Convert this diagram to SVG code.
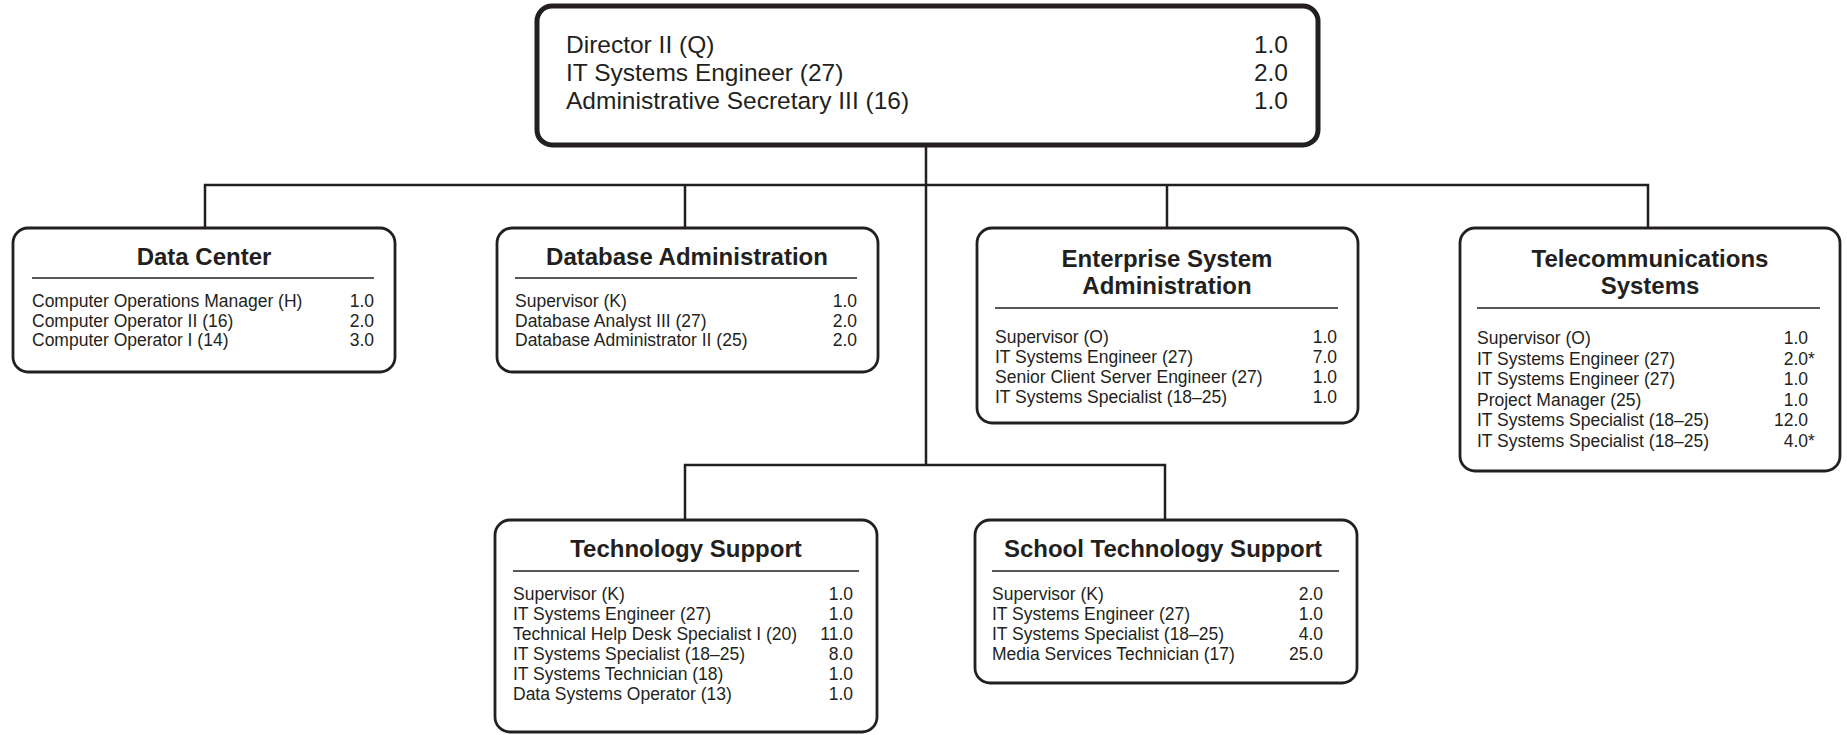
<svg xmlns="http://www.w3.org/2000/svg" width="1847" height="735" viewBox="0 0 1847 735">
<style>
  .top { fill: #fff; stroke: #231f20; stroke-width: 5; }
  .box { fill: #fff; stroke: #231f20; stroke-width: 2.8; }
  .div { stroke: #231f20; stroke-width: 1.5; }
  .conn { fill: none; stroke: #231f20; stroke-width: 2.5; }
  text { font-family: "Liberation Sans", Arial, sans-serif; fill: #231f20; }
  .tt { font-size: 24.5px; }
  .ttl { font-size: 24px; font-weight: bold; text-anchor: middle; }
  .r { font-size: 17.5px; }
  .v { font-size: 17.5px; text-anchor: end; }
  .vt { font-size: 24.5px; text-anchor: end; }
</style>
<rect width="1847" height="735" fill="#fff"/>
<g id="connectors">
  <path class="conn" d="M926 145 V465"/>
  <path class="conn" d="M205 227 V185 H1648 V227"/>
  <path class="conn" d="M685 185 V227"/>
  <path class="conn" d="M1167 185 V227"/>
  <path class="conn" d="M685 519 V465 H1165 V519"/>
</g>
<g id="director">
  <rect class="top" x="537" y="6" width="781" height="139" rx="15"/>
  <text class="tt" x="566" y="53">Director II (Q)</text>
  <text class="tt" x="566" y="81">IT Systems Engineer (27)</text>
  <text class="tt" x="566" y="109">Administrative Secretary III (16)</text>
  <text class="vt" x="1288" y="53">1.0</text>
  <text class="vt" x="1288" y="81">2.0</text>
  <text class="vt" x="1288" y="109">1.0</text>
</g>
<g id="data-center">
  <rect class="box" x="13" y="228" width="382" height="144" rx="15"/>
  <text class="ttl" x="204" y="265">Data Center</text>
  <line class="div" x1="32" y1="278" x2="374" y2="278"/>
  <text class="r" x="32" y="307">Computer Operations Manager (H)</text>
  <text class="r" x="32" y="326.5">Computer Operator II (16)</text>
  <text class="r" x="32" y="346">Computer Operator I (14)</text>
  <text class="v" x="374" y="307">1.0</text>
  <text class="v" x="374" y="326.5">2.0</text>
  <text class="v" x="374" y="346">3.0</text>
</g>
<g id="database-administration">
  <rect class="box" x="497" y="228" width="381" height="144" rx="15"/>
  <text class="ttl" x="687" y="265">Database Administration</text>
  <line class="div" x1="515" y1="278" x2="857" y2="278"/>
  <text class="r" x="515" y="307">Supervisor (K)</text>
  <text class="r" x="515" y="326.5">Database Analyst III (27)</text>
  <text class="r" x="515" y="346">Database Administrator II (25)</text>
  <text class="v" x="857" y="307">1.0</text>
  <text class="v" x="857" y="326.5">2.0</text>
  <text class="v" x="857" y="346">2.0</text>
</g>
<g id="enterprise-system-administration">
  <rect class="box" x="977" y="228" width="381" height="195" rx="15"/>
  <text class="ttl" x="1167" y="267">Enterprise System</text>
  <text class="ttl" x="1167" y="294">Administration</text>
  <line class="div" x1="995" y1="308" x2="1338" y2="308"/>
  <text class="r" x="995" y="343">Supervisor (O)</text>
  <text class="r" x="995" y="363">IT Systems Engineer (27)</text>
  <text class="r" x="995" y="383">Senior Client Server Engineer (27)</text>
  <text class="r" x="995" y="403">IT Systems Specialist (18–25)</text>
  <text class="v" x="1337" y="343">1.0</text>
  <text class="v" x="1337" y="363">7.0</text>
  <text class="v" x="1337" y="383">1.0</text>
  <text class="v" x="1337" y="403">1.0</text>
</g>
<g id="telecommunications-systems">
  <rect class="box" x="1460" y="228" width="380" height="243" rx="15"/>
  <text class="ttl" x="1650" y="267">Telecommunications</text>
  <text class="ttl" x="1650" y="294">Systems</text>
  <line class="div" x1="1477" y1="308" x2="1820" y2="308"/>
  <text class="r" x="1477" y="344">Supervisor (O)</text>
  <text class="r" x="1477" y="364.5">IT Systems Engineer (27)</text>
  <text class="r" x="1477" y="385">IT Systems Engineer (27)</text>
  <text class="r" x="1477" y="405.5">Project Manager (25)</text>
  <text class="r" x="1477" y="426">IT Systems Specialist (18–25)</text>
  <text class="r" x="1477" y="446.5">IT Systems Specialist (18–25)</text>
  <text class="v" x="1808" y="344">1.0</text>
  <text class="r" x="1783.7" y="364.5">2.0*</text>
  <text class="v" x="1808" y="385">1.0</text>
  <text class="v" x="1808" y="405.5">1.0</text>
  <text class="v" x="1808" y="426">12.0</text>
  <text class="r" x="1783.7" y="446.5">4.0*</text>
</g>
<g id="technology-support">
  <rect class="box" x="495" y="520" width="382" height="212" rx="15"/>
  <text class="ttl" x="686" y="557">Technology Support</text>
  <line class="div" x1="513" y1="571" x2="859" y2="571"/>
  <text class="r" x="513" y="600">Supervisor (K)</text>
  <text class="r" x="513" y="620">IT Systems Engineer (27)</text>
  <text class="r" x="513" y="640">Technical Help Desk Specialist I (20)</text>
  <text class="r" x="513" y="660">IT Systems Specialist (18–25)</text>
  <text class="r" x="513" y="680">IT Systems Technician (18)</text>
  <text class="r" x="513" y="700">Data Systems Operator (13)</text>
  <text class="v" x="853" y="600">1.0</text>
  <text class="v" x="853" y="620">1.0</text>
  <text class="v" x="853" y="640">11.0</text>
  <text class="v" x="853" y="660">8.0</text>
  <text class="v" x="853" y="680">1.0</text>
  <text class="v" x="853" y="700">1.0</text>
</g>
<g id="school-technology-support">
  <rect class="box" x="975" y="520" width="382" height="163" rx="15"/>
  <text class="ttl" x="1163" y="557">School Technology Support</text>
  <line class="div" x1="992" y1="571" x2="1339" y2="571"/>
  <text class="r" x="992" y="600">Supervisor (K)</text>
  <text class="r" x="992" y="620">IT Systems Engineer (27)</text>
  <text class="r" x="992" y="640">IT Systems Specialist (18–25)</text>
  <text class="r" x="992" y="660">Media Services Technician (17)</text>
  <text class="v" x="1323" y="600">2.0</text>
  <text class="v" x="1323" y="620">1.0</text>
  <text class="v" x="1323" y="640">4.0</text>
  <text class="v" x="1323" y="660">25.0</text>
</g>
</svg>
